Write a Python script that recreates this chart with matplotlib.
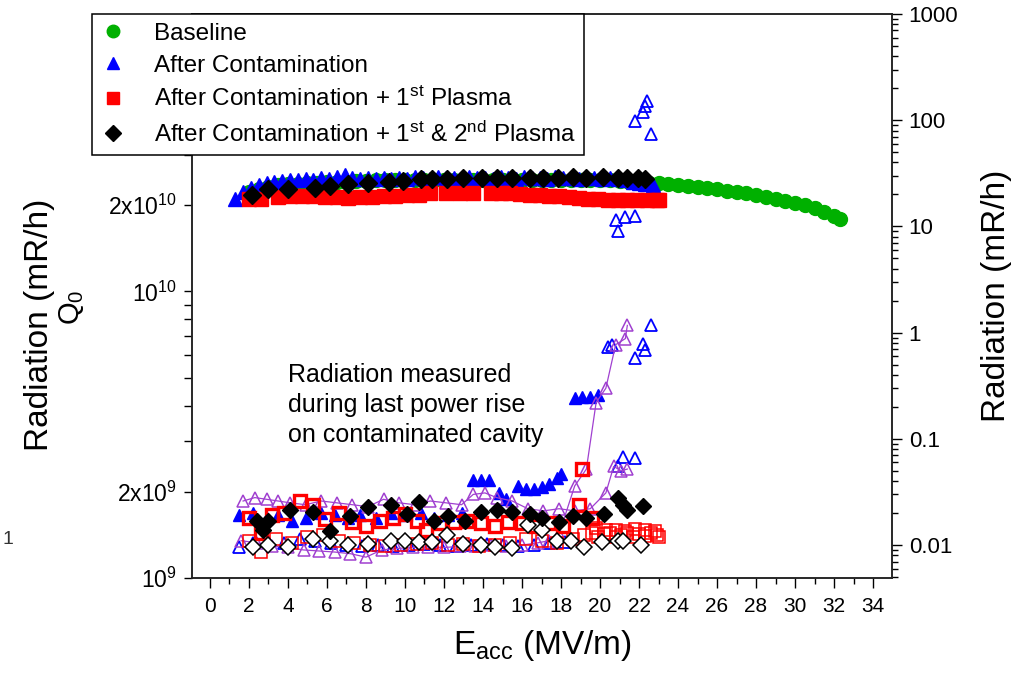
import matplotlib
matplotlib.use("Agg")
import matplotlib.pyplot as plt
import numpy as np
from matplotlib.ticker import FixedLocator, FixedFormatter, LogLocator, NullFormatter, MultipleLocator

plt.rcParams["font.family"] = ["Liberation Sans", "DejaVu Sans"]
plt.rcParams["mathtext.default"] = "regular"

# ---- Q0 data (left axis), values in units of 1e10 ----
base_e = [2.0, 2.5, 3.0, 3.5, 4.0, 4.5, 5.0, 5.5, 6.0, 6.5, 7.0, 7.5, 8.0, 8.5, 9.0, 9.5,
          10.0, 10.5, 11.0, 11.5, 12.0, 12.5, 13.0, 13.5, 14.0, 14.5, 15.0, 15.5, 16.0, 16.5,
          17.0, 17.5, 18.0, 18.5, 19.0, 19.5, 20.0, 20.5, 21.0, 21.5, 22.0, 22.5, 23.0, 23.5,
          24.0, 24.5, 25.0, 25.5, 26.0, 26.5, 27.0, 27.5, 28.0, 28.5, 29.0, 29.5, 30.0, 30.5,
          31.0, 31.5, 32.0, 32.3]
base_q0 = [2.22, 2.28, 2.32, 2.35, 2.37, 2.38, 2.39, 2.40, 2.41, 2.42, 2.42, 2.43, 2.43, 2.44,
           2.44, 2.44, 2.45, 2.45, 2.45, 2.45, 2.45, 2.45, 2.45, 2.45, 2.45, 2.45, 2.45, 2.45,
           2.45, 2.45, 2.45, 2.45, 2.45, 2.45, 2.45, 2.45, 2.45, 2.44, 2.43, 2.42, 2.41, 2.40,
           2.39, 2.38, 2.36, 2.34, 2.32, 2.29, 2.27, 2.24, 2.22, 2.20, 2.17, 2.14, 2.11, 2.07,
           2.03, 2.00, 1.95, 1.90, 1.83, 1.79]

cont_e = [1.3, 1.7, 2.1, 2.5, 2.9, 3.3, 3.7, 4.1, 4.5, 4.9, 5.3, 5.7, 6.1, 6.5, 6.9, 7.3, 7.7,
          8.1, 8.5, 8.9, 9.3, 9.7, 10.1, 10.5, 10.9, 11.3, 11.7, 12.1, 12.5, 12.9, 13.3, 13.7,
          14.1, 14.5, 14.9, 15.3, 15.7, 16.1, 16.5, 16.9, 17.3, 17.7, 18.1, 18.5, 18.9, 19.3,
          19.7, 20.1, 20.5, 20.9, 21.3, 21.7, 22.0, 22.3, 22.7]
cont_q0 = [2.10, 2.22, 2.30, 2.36, 2.40, 2.42, 2.43, 2.45, 2.44, 2.47, 2.45, 2.48, 2.46, 2.50,
           2.55, 2.48, 2.47, 2.49, 2.46, 2.48, 2.47, 2.49, 2.46, 2.50, 2.48, 2.47, 2.50, 2.48,
           2.49, 2.47, 2.50, 2.48, 2.49, 2.47, 2.50, 2.48, 2.47, 2.50, 2.48, 2.49, 2.47, 2.50,
           2.48, 2.49, 2.47, 2.49, 2.48, 2.47, 2.49, 2.46, 2.45, 2.42, 2.40, 2.37, 2.35]

p1_e = [2.0, 2.6, 3.5, 4.1, 4.7, 5.3, 5.9, 6.5, 7.1, 7.7, 8.3, 8.9, 9.5, 10.1, 10.7, 11.3,
        12.1, 12.8, 13.5, 14.4, 14.9, 15.4, 15.9, 16.4, 16.9, 17.4, 17.9, 18.4, 18.9, 19.4,
        19.9, 20.4, 20.9, 21.4, 21.9, 22.4, 22.9, 23.0]
p1_q0 = [2.10, 2.10, 2.13, 2.15, 2.15, 2.15, 2.14, 2.13, 2.12, 2.13, 2.14, 2.15, 2.16, 2.17,
         2.18, 2.20, 2.21, 2.21, 2.21, 2.21, 2.21, 2.20, 2.19, 2.18, 2.17, 2.16, 2.15, 2.13,
         2.12, 2.11, 2.10, 2.09, 2.09, 2.08, 2.08, 2.08, 2.08, 2.09]

p2_e = [2.15, 2.97, 4.0, 5.4, 6.15, 7.1, 8.1, 9.2, 9.9, 10.8, 11.4, 12.15, 13.0, 13.95, 14.7,
        15.5, 16.4, 17.1, 17.85, 18.6, 19.3, 20.15, 20.9, 21.4, 21.95, 22.3]
p2_q0 = [2.18, 2.28, 2.28, 2.30, 2.33, 2.37, 2.40, 2.42, 2.43, 2.46, 2.46, 2.47, 2.48, 2.48,
         2.49, 2.48, 2.49, 2.49, 2.48, 2.50, 2.49, 2.50, 2.49, 2.49, 2.48, 2.47]

# ---- radiation data (right axis), mR/h ----
rad_cont_a_e = [1.5, 2.2, 2.9, 3.5, 4.2, 4.9, 5.7, 6.4, 7.1, 7.7, 8.5, 9.3, 10.0, 10.8, 11.5,
                12.2, 12.9, 13.5, 13.9, 14.3, 14.8, 15.2, 15.8, 16.2, 16.6, 17.0, 17.4, 17.8,
                18.0, 18.7, 19.1, 19.5, 19.9]
rad_cont_a = [0.019, 0.020, 0.018, 0.019, 0.017, 0.018, 0.020, 0.019, 0.018, 0.019, 0.018,
              0.020, 0.019, 0.020, 0.018, 0.019, 0.020, 0.041, 0.041, 0.041, 0.031, 0.027,
              0.036, 0.034, 0.034, 0.035, 0.038, 0.043, 0.047, 0.24, 0.25, 0.25, 0.26]

rad_cont_b_e = [1.5, 2.2, 3.0, 3.8, 4.6, 5.4, 6.2, 7.0, 7.8, 8.6, 9.4, 10.2, 11.0, 11.8, 12.6,
                13.4, 14.2, 15.0, 15.8, 16.6, 17.4, 18.2, 20.4, 20.6, 21.8, 22.2, 22.3, 22.6,
                20.9, 21.2, 21.8, 20.8, 20.9, 21.3, 21.8, 21.8, 22.2, 22.3, 22.4, 22.6]
rad_cont_b = [0.0096, 0.0105, 0.011, 0.0105, 0.0115, 0.011, 0.0105, 0.010, 0.0098, 0.010,
              0.0098, 0.010, 0.0102, 0.010, 0.0098, 0.010, 0.0102, 0.010, 0.0098, 0.010,
              0.0104, 0.0106, 0.74, 0.76, 0.58, 0.79, 0.68, 1.19, 0.055, 0.068, 0.066, 11.6,
              9.0, 12.2, 12.5, 98.0, 119.0, 135.0, 151.0, 74.0]

rise_lo_e = [1.6, 2.4, 3.2, 4.0, 4.8, 5.6, 6.4, 7.2, 8.0, 8.8, 9.6, 10.4, 11.2, 12.0, 12.8,
             13.6, 14.4, 15.2, 16.0, 16.8, 17.4, 17.9, 18.7, 19.3, 19.8, 20.3, 20.8, 21.3, 21.4]
rise_lo = [0.011, 0.0105, 0.0098, 0.0095, 0.0090, 0.0088, 0.0086, 0.0083, 0.0077, 0.0090,
           0.0093, 0.0095, 0.0096, 0.0095, 0.0097, 0.0098, 0.0100, 0.0098, 0.0100, 0.0105,
           0.011, 0.0127, 0.036, 0.052, 0.22, 0.30, 0.77, 0.88, 1.17]

rise_hi_e = [1.7, 2.3, 2.9, 3.5, 4.1, 4.9, 5.7, 6.5, 7.3, 8.1, 8.9, 9.7, 10.5, 11.3, 12.1,
             12.9, 13.5, 14.1, 14.7, 15.5, 16.3, 17.1, 17.9, 18.7, 19.5, 20.3, 20.7, 21.1, 21.4]
rise_hi = [0.026, 0.028, 0.027, 0.026, 0.025, 0.024, 0.026, 0.025, 0.024, 0.023, 0.027, 0.025,
           0.024, 0.026, 0.025, 0.024, 0.030, 0.031, 0.028, 0.026, 0.022, 0.021, 0.022, 0.021,
           0.022, 0.031, 0.055, 0.050, 0.052]

rad_p1_a_e = [2.0, 2.6, 3.2, 3.8, 4.6, 5.3, 5.9, 6.6, 7.3, 8.0, 8.7, 9.4, 10.0, 10.6, 11.1,
              11.8, 12.5, 13.2, 13.9, 14.6, 15.3, 16.0, 16.7, 17.4, 18.1, 18.9, 19.1, 19.6]
rad_p1_a = [0.018, 0.013, 0.019, 0.020, 0.026, 0.024, 0.0177, 0.020, 0.0166, 0.015, 0.017,
            0.018, 0.0196, 0.017, 0.0138, 0.016, 0.0165, 0.017, 0.016, 0.015, 0.0165, 0.016,
            0.015, 0.016, 0.015, 0.024, 0.052, 0.018]

rad_p1_b_e = [2.0, 2.6, 3.4, 4.2, 5.0, 5.8, 6.6, 7.4, 8.2, 9.0, 9.8, 10.6, 11.4, 12.2, 13.0,
              13.8, 14.6, 15.4, 16.2, 17.0, 17.8, 18.6, 19.2, 19.6, 19.9, 20.2, 20.5, 20.8,
              21.1, 21.4, 21.7, 22.0, 22.3, 22.6, 22.9, 23.0, 19.8, 20.3, 20.8, 21.3, 21.8,
              22.3, 22.8]
rad_p1_b = [0.011, 0.0087, 0.0115, 0.0105, 0.012, 0.0125, 0.011, 0.0105, 0.010, 0.0098,
            0.010, 0.0102, 0.0105, 0.010, 0.0102, 0.0098, 0.010, 0.0105, 0.0115, 0.011,
            0.0105, 0.0115, 0.0125, 0.013, 0.012, 0.0128, 0.013, 0.012, 0.0125, 0.013, 0.012,
            0.0128, 0.0122, 0.013, 0.0125, 0.012, 0.0145, 0.014, 0.0138, 0.0135, 0.0142,
            0.014, 0.0137]

rad_p2_a_e = [2.4, 2.7, 3.0, 4.1, 5.3, 6.15, 7.2, 8.1, 9.3, 10.1, 10.7, 11.5, 12.2, 13.1,
              13.9, 14.7, 15.5, 16.4, 17.0, 17.9, 18.6, 19.3, 20.2, 20.9, 21.2, 21.4, 22.2]
rad_p2_a = [0.0167, 0.014, 0.0167, 0.0213, 0.0205, 0.0137, 0.0186, 0.0228, 0.024, 0.0196,
            0.0254, 0.0167, 0.0186, 0.0167, 0.0205, 0.0213, 0.0205, 0.0196, 0.018, 0.0166,
            0.0186, 0.018, 0.0196, 0.0275, 0.024, 0.0213, 0.0234]

rad_p2_b_e = [2.2, 3.0, 4.0, 5.3, 6.15, 7.1, 8.1, 9.3, 10.0, 10.7, 11.4, 12.15, 13.0, 13.9,
              14.6, 15.5, 16.3, 17.0, 17.8, 18.5, 19.2, 20.1, 20.9, 21.2, 22.1]
rad_p2_b = [0.0096, 0.010, 0.0096, 0.0115, 0.011, 0.010, 0.0103, 0.011, 0.011, 0.0106,
            0.0106, 0.0124, 0.0103, 0.010, 0.0096, 0.0093, 0.0156, 0.0139, 0.011, 0.011,
            0.0096, 0.0106, 0.011, 0.011, 0.010]

legend_labels = [
    "Baseline",
    "After Contamination",
    "After Contamination + 1$^{st}$ Plasma",
    "After Contamination + 1$^{st}$ & 2$^{nd}$ Plasma",
]
x_ticks = [0, 2, 4, 6, 8, 10, 12, 14, 16, 18, 20, 22, 24, 26, 28, 30, 32, 34]
q0_ticks = [1e9, 2e9, 1e10, 2e10]
q0_tick_labels = ["$10^9$", "$2x10^9$", "$10^{10}$", "$2x10^{10}$"]
rad_ticks = [0.01, 0.1, 1, 10, 100, 1000]
rad_tick_labels = ["0.01", "0.1", "1", "10", "100", "1000"]

GREEN = "#00b000"
BLUE = "#0000ff"
RED = "#ff0000"
PURPLE = "#a040d0"

fig = plt.figure(figsize=(10.22, 6.76), dpi=100)
ax = fig.add_axes([192 / 1022, 1 - 578 / 676, 700 / 1022, 564 / 676])
ax2 = ax.twinx()

scale = 1e10
h_base, = ax.plot(base_e, np.array(base_q0) * scale, "o", color=GREEN, ms=10, mec=GREEN, ls="none")
h_cont, = ax.plot(cont_e, np.array(cont_q0) * scale, "^", color=BLUE, ms=10, mec=BLUE, ls="none")
h_p1, = ax.plot(p1_e, np.array(p1_q0) * scale, "s", color=RED, ms=9.5, mec=RED, ls="none")
h_p2, = ax.plot(p2_e, np.array(p2_q0) * scale, "D", color="black", ms=9, mec="black", ls="none")

ax2.plot(rad_cont_a_e, rad_cont_a, "^", color=BLUE, ms=8.5, mec=BLUE, ls="none")
ax2.plot(rad_cont_b_e, rad_cont_b, "^", mfc="none", mec=BLUE, mew=1.3, ms=9, ls="none")
ax2.plot(rise_lo_e, rise_lo, "^-", color=PURPLE, mfc="none", mec=PURPLE, mew=1.1, ms=9, lw=0.9)
ax2.plot(rise_hi_e, rise_hi, "^-", color=PURPLE, mfc="none", mec=PURPLE, mew=1.1, ms=9, lw=0.9)
ax2.plot(rad_p1_a_e, rad_p1_a, "s", mfc="none", mec=RED, mew=2.4, ms=8, ls="none")
ax2.plot(rad_p1_b_e, rad_p1_b, "s", mfc="none", mec=RED, mew=1.1, ms=8, ls="none")
ax2.plot(rad_p2_b_e, rad_p2_b, "D", mfc="white", mec="black", mew=1.1, ms=8.5, ls="none")
ax2.plot(rad_p2_a_e, rad_p2_a, "D", color="black", mec="black", ms=8.5, ls="none")

# x axis
ax.set_xlim(-0.92, 34.97)
ax.xaxis.set_major_locator(FixedLocator(x_ticks))
ax.xaxis.set_minor_locator(MultipleLocator(1))
ax.tick_params(axis="x", which="major", direction="out", length=7, width=1, labelsize=15, pad=7)
ax.tick_params(axis="x", which="minor", direction="out", length=4, width=1)
ax.set_xlabel("E$_{acc}$ (MV/m)", fontsize=24, labelpad=8)

# left axis: Q0
ax.set_yscale("log")
ax.set_ylim(1e9, 9.3e10)
ax.yaxis.set_major_locator(FixedLocator(q0_ticks))
ax.yaxis.set_major_formatter(FixedFormatter(q0_tick_labels))
ax.yaxis.set_minor_locator(LogLocator(base=10, subs=(3, 4, 5, 6, 7, 8, 9)))
ax.yaxis.set_minor_formatter(NullFormatter())
ax.tick_params(axis="y", which="both", direction="out", length=6, width=1, labelsize=16.5, pad=5)

# right axis: radiation
ax2.set_yscale("log")
ax2.set_ylim(0.0049, 1000)
ax2.yaxis.set_major_locator(FixedLocator(rad_ticks))
ax2.yaxis.set_major_formatter(FixedFormatter(rad_tick_labels))
ax2.yaxis.set_minor_locator(LogLocator(base=10, subs=(2, 3, 4, 5, 6, 7, 8, 9)))
ax2.yaxis.set_minor_formatter(NullFormatter())
ax2.tick_params(axis="y", which="major", direction="out", length=7, width=1, labelsize=16, pad=5)
ax2.tick_params(axis="y", which="minor", direction="out", length=4, width=1)
ax2.set_ylabel("Radiation (mR/h)", fontsize=24, labelpad=16)

for a in (ax, ax2):
    for sp in a.spines.values():
        sp.set_linewidth(1.1)
        sp.set_color("#222222")

# left side labels (overlapping, as in the original)
fig.text(40 / 1022, 1 - 325 / 676, "Radiation (mR/h)", rotation=90, fontsize=24,
         ha="center", va="center")
fig.text(71 / 1022, 1 - 307 / 676, "Q$_0$", rotation=90, fontsize=21, ha="center", va="center")
fig.text(8 / 1022, 1 - 540 / 676, "1", fontsize=14, ha="center", va="center", color="#333333")

fig.text(288 / 1022, 1 - 405 / 676,
         "Radiation measured\nduring last power rise\non contaminated cavity",
         fontsize=18, ha="left", va="center", linespacing=1.3)

leg = ax2.legend([h_base, h_cont, h_p1, h_p2], legend_labels, loc="upper left",
                 bbox_to_anchor=(92 / 1022, 1 - 14 / 676), bbox_transform=fig.transFigure,
                 fontsize=17.5, frameon=True, fancybox=False, framealpha=1, edgecolor="black",
                 borderaxespad=0, borderpad=0.35, labelspacing=0.42, handlelength=1.0,
                 handletextpad=1.2, markerscale=0.9)
leg.get_frame().set_linewidth(1.1)

fig.savefig("out.png", dpi=100)
